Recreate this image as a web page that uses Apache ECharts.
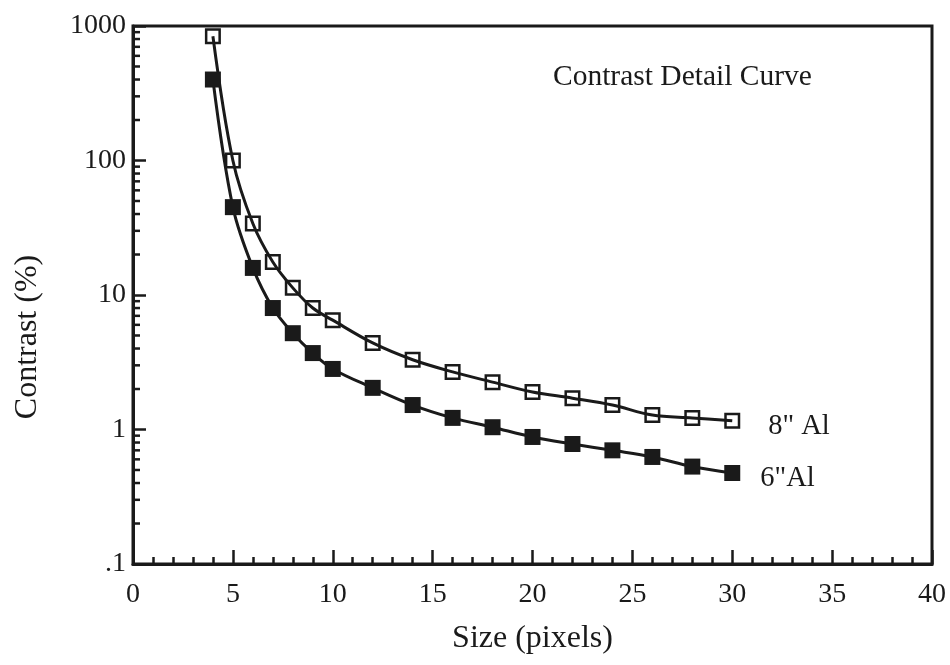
<!DOCTYPE html>
<html>
<head>
<meta charset="utf-8">
<script src="https://cdn.jsdelivr.net/npm/echarts@6/dist/echarts.min.js"></script>
<style>html,body{margin:0;padding:0;background:#fff}#c{width:950px;height:665px}</style>
</head>
<body>
<div id="c"></div>
<script>
const sizes = [4,5,6,7,8,9,10,12,14,16,18,20,22,24,26,28,30];
const al8 = [840,100,34,17.6,11.3,8.0,6.5,4.4,3.3,2.68,2.25,1.9,1.71,1.52,1.28,1.22,1.16];
const al6 = [400,45,15.9,8.0,5.2,3.7,2.82,2.04,1.52,1.22,1.04,0.88,0.78,0.70,0.625,0.53,0.475];
const yTickLabels = {0.1:'.1',1:'1',10:'10',100:'100',1000:'1000'};
const yMinorTicks = [];
[0.1,1,10,100].forEach(d => { for (let k = 2; k <= 9; k++) yMinorTicks.push(+(d*k).toPrecision(3)); });

const ink = '#1a1a1a';
const font = 'Liberation Serif';
const chart = echarts.init(document.getElementById('c'));
chart.setOption({
  animation: false,
  backgroundColor: '#fff',
  grid: { left: 133, right: 18, top: 26, bottom: 101, show: true, borderColor: ink, borderWidth: 3, backgroundColor: 'transparent' },
  graphic: [{
    type: 'text', left: 553, top: 62,
    style: { text: 'Contrast Detail Curve', fontFamily: font, fontSize: 29.5, fill: ink }
  }],
  xAxis: {
    type: 'value', min: 0, max: 40, interval: 5,
    name: 'Size (pixels)', nameLocation: 'middle', nameGap: 59,
    nameTextStyle: { fontFamily: font, fontSize: 32, color: ink },
    axisLine: { lineStyle: { color: ink, width: 3 } },
    axisTick: { inside: true, length: 14, lineStyle: { color: ink, width: 2.5 } },
    minorTick: { show: true, splitNumber: 5, length: 7, lineStyle: { color: ink, width: 2.5 } },
    axisLabel: { fontFamily: font, fontSize: 28, color: ink, margin: 17 },
    splitLine: { show: false }, minorSplitLine: { show: false }
  },
  yAxis: {
    type: 'log', logBase: 10, min: 0.1, max: 1000,
    name: 'Contrast (%)', nameLocation: 'middle', nameGap: 89,
    nameTextStyle: { fontFamily: font, fontSize: 32, color: ink, padding: [0, 84, 0, 0] },
    axisLine: { lineStyle: { color: ink, width: 3 } },
    axisTick: { inside: true, length: 13, lineStyle: { color: ink, width: 2.5 } },
    axisLabel: { fontFamily: font, fontSize: 28, color: ink, margin: 7,
      formatter: v => yTickLabels[+(+v).toPrecision(3)] ?? String(v) },
    splitLine: { show: false }
  },
  series: [
    {
      type: 'custom', silent: true, z: 1,
      data: yMinorTicks.map(v => [0, v]),
      renderItem: (params, api) => {
        const p = api.coord([0, api.value(1)]);
        return { type: 'line', shape: { x1: p[0], y1: p[1], x2: p[0] + 7, y2: p[1] },
                 style: { stroke: ink, lineWidth: 2.5 } };
      },
      clip: false
    },
    {
      name: '8" Al', type: 'line', smooth: 0.35,
      data: sizes.map((x, i) => [x, al8[i]]),
      symbol: 'rect', symbolSize: 13.5,
      lineStyle: { color: ink, width: 3 },
      itemStyle: { color: 'rgba(255,255,255,0)', borderColor: ink, borderWidth: 2.5 },
      endLabel: { show: true, formatter: '8" Al', fontFamily: font, fontSize: 28.5, color: ink, distance: 36, offset: [0, 6] },
      z: 3
    },
    {
      name: '6"Al', type: 'line', smooth: 0.35,
      data: sizes.map((x, i) => [x, al6[i]]),
      symbol: 'rect', symbolSize: 16,
      lineStyle: { color: ink, width: 3 },
      itemStyle: { color: ink, borderColor: ink, borderWidth: 0 },
      endLabel: { show: true, formatter: '6"Al', fontFamily: font, fontSize: 28.5, color: ink, distance: 28, offset: [0, 6] },
      z: 3
    }
  ]
});
</script>
</body>
</html>
